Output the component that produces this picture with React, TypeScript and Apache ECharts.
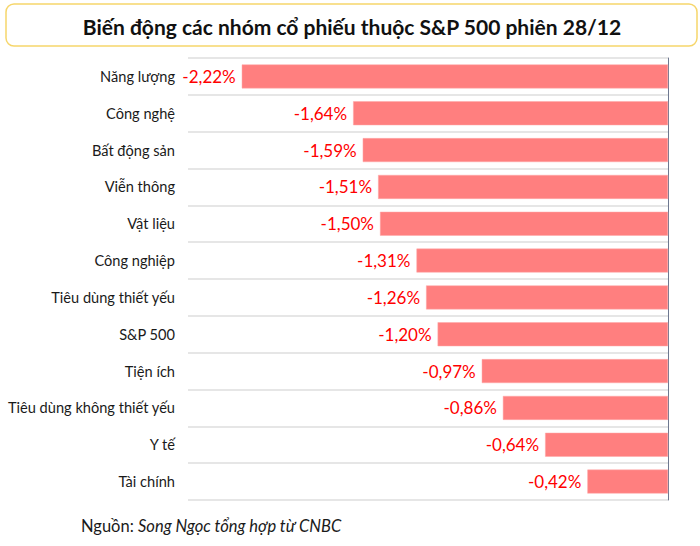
import React, { useEffect, useRef } from "react";
import * as echarts from "echarts";

const categories = [
  "Năng lượng",
  "Công nghệ",
  "Bất động sản",
  "Viễn thông",
  "Vật liệu",
  "Công nghiệp",
  "Tiêu dùng thiết yếu",
  "S&P 500",
  "Tiện ích",
  "Tiêu dùng không thiết yếu",
  "Y tế",
  "Tài chính",
];
const values = [-2.22, -1.64, -1.59, -1.51, -1.5, -1.31, -1.26, -1.2, -0.97, -0.86, -0.64, -0.42];
const titleText = "Biến động các nhóm cổ phiếu thuộc S&P 500 phiên 28/12";
const sourceLabel = "Nguồn: ";
const sourceText = "Song Ngọc tổng hợp từ CNBC";

export default function App() {
  const ref = useRef<HTMLDivElement>(null);
  useEffect(() => {
    if (!ref.current) return;
    const chart = echarts.init(ref.current, null, { renderer: "svg" });
    const font = "Lato, 'Noto Sans', sans-serif";
    chart.setOption({
      animation: false,
      backgroundColor: "#ffffff",
      textStyle: { fontFamily: font },
      grid: { left: 188, right: 32, top: 58, bottom: 46, containLabel: false },
      xAxis: {
        type: "value",
        min: -2.5,
        max: 0,
        show: false,
      },
      yAxis: [
        {
          type: "category",
          data: categories,
          inverse: true,
          position: "left",
          axisLine: { show: false, onZero: false },
          axisTick: { show: false },
          axisLabel: { color: "#1a1a1a", fontSize: 14.6, fontFamily: font, margin: 13 },
          splitLine: { show: true, lineStyle: { color: "#dedede", width: 1.5 } },
        },
        {
          type: "category",
          data: categories,
          inverse: true,
          position: "right",
          axisLine: { show: true, onZero: false, lineStyle: { color: "#6e7890", width: 1 } },
          axisTick: { show: false },
          axisLabel: { show: false },
          splitLine: { show: false },
        },
      ],
      series: [
        {
          type: "bar",
          data: values,
          yAxisIndex: 0,
          barWidth: "65%",
          itemStyle: { color: "#ff7f7f", borderColor: "#ffa8a8", borderWidth: 0.5 },
          label: {
            show: true,
            position: "left",
            distance: 6,
            color: "#ff0000",
            fontSize: 17,
            fontFamily: font,
            formatter: (p: any) => p.value.toFixed(2).replace(".", ",") + "%",
          },
        },
      ],
      graphic: [
        {
          type: "rect",
          shape: { x: 6, y: 4, width: 691, height: 42, r: 8 },
          style: { fill: "#ffffff", stroke: "#f6d66b", lineWidth: 1.5 },
        },
        {
          type: "text",
          x: 352,
          y: 26,
          style: {
            text: titleText,
            fontFamily: font,
            fontSize: 21,
            fontWeight: "bold",
            fill: "#111111",
            align: "center",
            verticalAlign: "middle",
          },
        },
        {
          type: "text",
          x: 81,
          y: 526,
          style: {
            text: "{a|" + sourceLabel + "}{b|" + sourceText + "}",
            verticalAlign: "middle",
            rich: {
              a: { fontFamily: font, fontSize: 16.5, fill: "#1a1a1a" },
              b: { fontFamily: font, fontSize: 16.5, fontStyle: "italic", fill: "#1a1a1a" },
            },
          },
        },
      ],
    });
    return () => chart.dispose();
  }, []);
  return (
    <div
      ref={ref}
      style={{ position: "fixed", left: 0, top: 0, width: 700, height: 546 }}
    />
  );
}
